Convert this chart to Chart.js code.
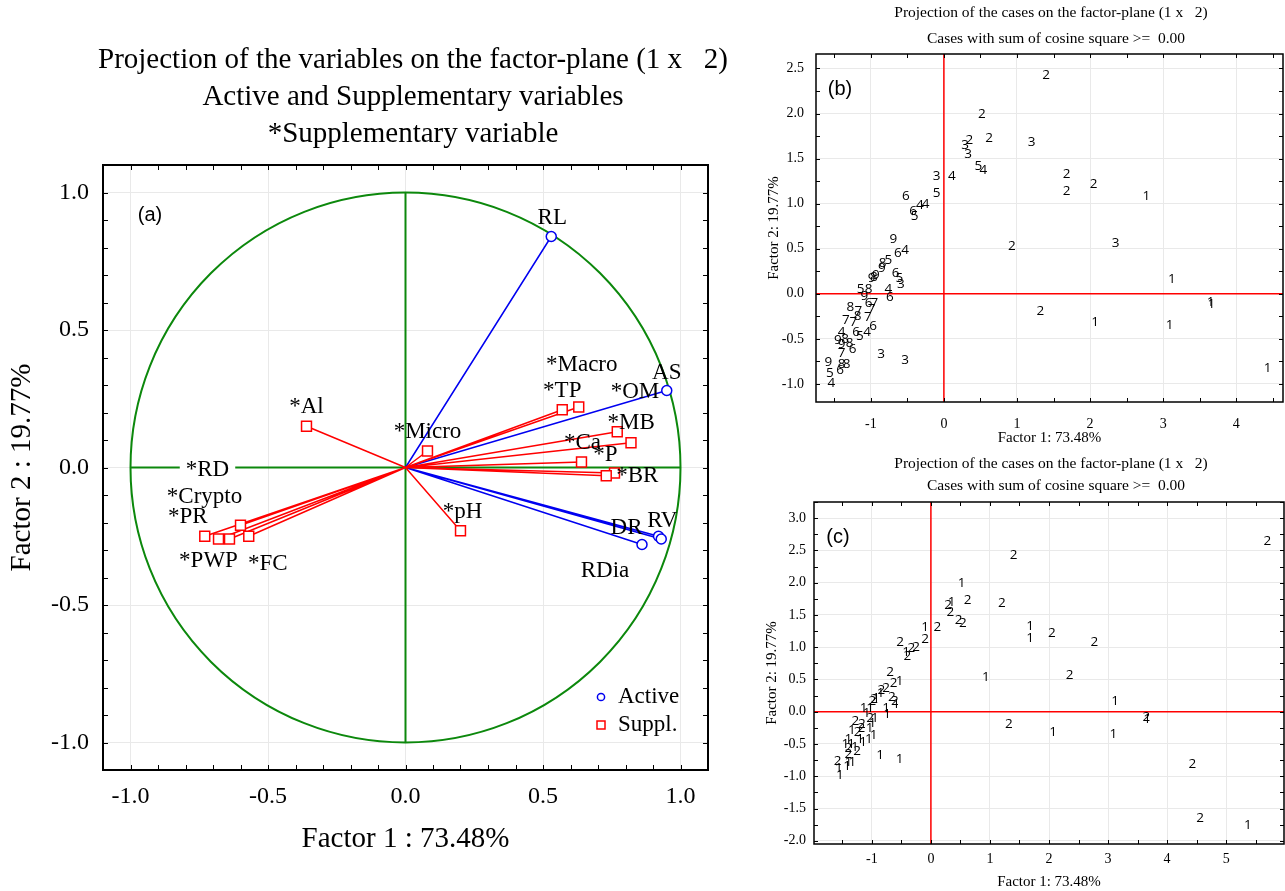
<!DOCTYPE html>
<html>
<head>
<meta charset="utf-8">
<script src="https://cdn.jsdelivr.net/npm/chart.js@4.4.0/dist/chart.umd.min.js"></script>
<style>
  body { margin: 0; background: #fff; width: 1285px; height: 891px; position: relative; overflow: hidden; }
  canvas { position: absolute; }
  #varPlane { left: 0; top: 0; width: 730px; height: 891px; }
  #casesB { left: 740px; top: 0; width: 545px; height: 452px; }
  #casesC { left: 740px; top: 452px; width: 545px; height: 439px; }
</style>
</head>
<body>
<canvas id="varPlane" width="730" height="891"></canvas>
<canvas id="casesB" width="545" height="452"></canvas>
<canvas id="casesC" width="545" height="439"></canvas>
<script>
// ---- variable loadings on factors 1 and 2 ----
var activeNames = ['RL', 'AS', 'DR', 'RV', 'RDia'];
var activeF1 = [0.53, 0.95, 0.92, 0.93, 0.86];
var activeF2 = [0.84, 0.28, -0.25, -0.26, -0.28];

var supplNames = ['*Al', '*Micro', '*TP', '*Macro', '*OM', '*MB', '*Ca', '*P', '*BR', '*pH',
                  '*RD', '*Crypto', '*PR', '*PWP', '*FC'];
var supplF1 = [-0.36, 0.08, 0.57, 0.63, 0.82, 0.77, 0.64, 0.76, 0.73, 0.20,
               -0.60, -0.64, -0.73, -0.68, -0.57];
var supplF2 = [0.15, 0.06, 0.21, 0.22, 0.09, 0.13, 0.02, -0.02, -0.03, -0.23,
               -0.21, -0.26, -0.25, -0.26, -0.25];

var loadingTicks = [-1.0, -0.5, 0.0, 0.5, 1.0];

// ---- case scores on factors 1 and 2 ----
var caseF1 = [1.40, 0.52, 0.62, 1.20, 0.29, 0.35, 0.33, 0.47, 0.54, -0.10,
              0.11, -0.10, -0.52, -0.42, -0.33, -0.25, -0.40, 0.93, 2.35, 1.68,
              1.68, 2.05, 2.77, 5.70, -0.69, -0.63, -0.53, -0.84, -0.76, -0.85,
              -0.99, -0.93, -0.96, -0.66, -0.61, -0.59, -1.14, -1.03, -1.09, -0.76,
              -0.74, -1.03, -0.95, -1.28, -1.17, -0.99, -1.34, -1.24, -1.18, -1.04,
              -0.97, -1.40, -1.20, -1.05, -1.15, -1.45, -1.40, -1.29, -1.25, -1.35,
              -1.40, -1.58, -1.33, -1.40, -1.56, -1.42, -1.54, -0.86, -0.53, 3.12,
              1.32, 2.07, 3.09, 3.65, 3.66, 4.43, 4.56, 5.37];
var caseF2 = [2.43, 1.99, 1.73, 1.68, 1.65, 1.70, 1.55, 1.42, 1.37, 1.31,
              1.31, 1.12, 1.08, 0.92, 0.98, 1.00, 0.86, 0.53, 0.56, 1.33,
              1.14, 1.22, 1.08, 2.64, 0.61, 0.45, 0.48, 0.34, 0.37, 0.28,
              0.17, 0.21, 0.19, 0.23, 0.17, 0.11, 0.05, 0.05, -0.03, 0.05,
              -0.04, -0.10, -0.10, -0.15, -0.19, -0.17, -0.29, -0.31, -0.25, -0.26,
              -0.36, -0.43, -0.42, -0.43, -0.47, -0.51, -0.56, -0.55, -0.61, -0.50,
              -0.66, -0.76, -0.78, -0.78, -0.88, -0.85, -0.99, -0.67, -0.74, 0.16,
              -0.19, -0.31, -0.35, -0.09, -0.12, -0.82, -1.65, -1.76];
// case codes shown in panel (b) and in panel (c)
var codesB = [2, 2, 2, 3, 3, 2, 3, 5, 4, 3,
              4, 5, 6, 6, 4, 4, 5, 2, 3, 2,
              2, 2, 1, 1, 9, 6, 4, 8, 5, 9,
              9, 9, 8, 6, 5, 3, 5, 8, 9, 4,
              6, 6, 7, 8, 7, 7, 7, 7, 8, 7,
              6, 4, 6, 4, 5, 9, 9, 8, 6, 8,
              7, 9, 8, 8, 5, 6, 4, 3, 3, 1,
              2, 1, 1, 1, 1, 1, 1, 1];
var codesC = [2, 1, 2, 2, 2, 1, 2, 2, 2, 1,
              2, 2, 2, 1, 2, 2, 2, 1, 2, 1,
              1, 2, 2, 2, 2, 2, 1, 2, 2, 1,
              2, 1, 2, 2, 2, 1, 1, 1, 1, 1,
              1, 2, 1, 2, 2, 1, 1, 2, 2, 1,
              1, 1, 1, 1, 1, 1, 2, 1, 2, 1,
              2, 2, 1, 1, 1, 1, 1, 1, 1, 1,
              2, 1, 1, 2, 1, 2, 2, 1];

var caseTicksB_x = [-1, 0, 1, 2, 3, 4];
var caseTicksB_y = [-1.0, -0.5, 0.0, 0.5, 1.0, 1.5, 2.0, 2.5];
var caseTicksC_x = [-1, 0, 1, 2, 3, 4, 5];
var caseTicksC_y = [-2.0, -1.5, -1.0, -0.5, 0.0, 0.5, 1.0, 1.5, 2.0, 2.5, 3.0];

// ---- styling ----
var SERIF = '"Liberation Serif", "Times New Roman", serif';
var SANS = '"Liberation Sans", Arial, sans-serif';
var GREEN = '#0c880c';
var BLUE = '#0000f0';
var RED = '#ff0000';
var GRID = '#e9e9e9';

// label placement around each variable marker (dx, dy in px)
var activeLabelOffset = [[1, -19], [0, -18], [-32, -8], [1, -18], [-37, 26]];
var supplLabelOffset = [[0, -19], [0, -19], [0, -19], [3, -42], [4, -51], [14, -9], [1, -19],
                        [-9, -18], [31, 0], [2, -19], [-33, -55], [-25, -42], [-17, -19],
                        [-10, 22], [19, 28]];
var boxedLabels = ['*RD'];

Chart.defaults.color = '#000';
Chart.defaults.font.family = SERIF;

function fixedTicks(values) {
  return function (scale) { scale.ticks = values.map(function (v) { return { value: v }; }); };
}
function fixWidth(w) { return function (scale) { scale.width = w; }; }
function fixHeight(h) { return function (scale) { scale.height = h; }; }

// black frame with short inward tick marks on all four sides
function frameTicks(xStep, yStep, len, width) {
  return {
    id: 'frameTicks',
    afterDraw(chart) {
      const { ctx, chartArea: a, scales: { x, y } } = chart;
      ctx.save();
      ctx.strokeStyle = '#000';
      ctx.lineWidth = 1;
      ctx.beginPath();
      for (let k = Math.ceil(x.min / xStep - 1e-9); k * xStep <= x.max + 1e-9; k++) {
        const px = Math.round(x.getPixelForValue(k * xStep)) + 0.5;
        ctx.moveTo(px, a.bottom); ctx.lineTo(px, a.bottom - len);
        ctx.moveTo(px, a.top); ctx.lineTo(px, a.top + len);
      }
      for (let k = Math.ceil(y.min / yStep - 1e-9); k * yStep <= y.max + 1e-9; k++) {
        const py = Math.round(y.getPixelForValue(k * yStep)) + 0.5;
        ctx.moveTo(a.left, py); ctx.lineTo(a.left + len, py);
        ctx.moveTo(a.right, py); ctx.lineTo(a.right - len, py);
      }
      ctx.stroke();
      ctx.lineWidth = width;
      ctx.strokeRect(a.left, a.top, a.width, a.height);
      ctx.restore();
    }
  };
}

// free text lines (titles, panel tags); x/y in canvas px
function headings(lines) {
  return {
    id: 'headings',
    afterDraw(chart) {
      const ctx = chart.ctx;
      ctx.save();
      ctx.fillStyle = '#000';
      ctx.textAlign = 'center';
      ctx.textBaseline = 'middle';
      lines.forEach(function (l) {
        ctx.font = l.font;
        const a = chart.chartArea;
        const x = l.fromArea ? a.left + l.x : l.x;
        const y = l.fromArea ? a.top + l.y : l.y;
        ctx.fillText(l.text, x, y);
      });
      ctx.restore();
    }
  };
}

function axisScale(cfg) {
  return {
    type: 'linear',
    position: cfg.position,
    min: cfg.min,
    max: cfg.max,
    afterBuildTicks: fixedTicks(cfg.ticks),
    afterFit: cfg.position === 'left' ? fixWidth(cfg.size) : fixHeight(cfg.size),
    grid: { color: GRID, lineWidth: 1, drawTicks: false },
    border: { display: false },
    ticks: {
      autoSkip: false,
      padding: cfg.tickPad,
      font: { family: SERIF, size: cfg.tickFont },
      callback: cfg.format
    },
    title: {
      display: true,
      text: cfg.title,
      font: { family: SERIF, size: cfg.titleFont },
      padding: cfg.titlePad
    }
  };
}

// ================= (a) variables on the factor plane =================
const unitCircle = {
  id: 'unitCircle',
  beforeDatasetsDraw(chart) {
    const { ctx, scales: { x, y } } = chart;
    const cx = x.getPixelForValue(0), cy = y.getPixelForValue(0);
    const rx = x.getPixelForValue(1) - cx, ry = cy - y.getPixelForValue(1);
    ctx.save();
    ctx.strokeStyle = GREEN;
    ctx.lineWidth = 2;
    ctx.beginPath();
    ctx.ellipse(cx, cy, rx, ry, 0, 0, 2 * Math.PI);
    ctx.stroke();
    ctx.beginPath();
    ctx.moveTo(x.getPixelForValue(-1), cy); ctx.lineTo(x.getPixelForValue(1), cy);
    ctx.moveTo(cx, y.getPixelForValue(-1)); ctx.lineTo(cx, y.getPixelForValue(1));
    ctx.stroke();
    // loading vectors from the origin
    ctx.lineWidth = 1.5;
    chart.data.datasets.forEach(function (ds, i) {
      ctx.strokeStyle = ds.borderColor;
      ctx.beginPath();
      chart.getDatasetMeta(i).data.forEach(function (p) {
        ctx.moveTo(cx, cy); ctx.lineTo(p.x, p.y);
      });
      ctx.stroke();
    });
    ctx.restore();
  }
};

const variableLabels = {
  id: 'variableLabels',
  afterDatasetsDraw(chart) {
    const ctx = chart.ctx;
    ctx.save();
    ctx.font = '23px ' + SERIF;
    ctx.textAlign = 'center';
    ctx.textBaseline = 'middle';
    chart.data.datasets.forEach(function (ds, i) {
      chart.getDatasetMeta(i).data.forEach(function (p, j) {
        const name = ds.names[j];
        const off = ds.offsets[j];
        const tx = p.x + off[0], ty = p.y + off[1];
        if (boxedLabels.indexOf(name) >= 0) {
          const w = ctx.measureText(name).width + 12;
          ctx.fillStyle = '#fff';
          ctx.fillRect(tx - w / 2, ty - 11, w, 22);
        }
        ctx.fillStyle = '#000';
        ctx.fillText(name, tx, ty);
      });
    });
    ctx.restore();
  }
};

const markerLegend = {
  id: 'markerLegend',
  afterDraw(chart) {
    const { ctx, chartArea: a } = chart;
    const rows = [
      { ds: chart.data.datasets[0], dy: -73 },
      { ds: chart.data.datasets[1], dy: -45 }
    ];
    ctx.save();
    ctx.font = '23px ' + SERIF;
    ctx.textAlign = 'left';
    ctx.textBaseline = 'middle';
    rows.forEach(function (r) {
      const mx = a.right - 107, my = a.bottom + r.dy;
      ctx.strokeStyle = r.ds.borderColor;
      ctx.lineWidth = 1.5;
      ctx.beginPath();
      if (r.ds.pointStyle === 'circle') ctx.arc(mx, my, 3.6, 0, 2 * Math.PI);
      else ctx.rect(mx - 4, my - 4, 8, 8);
      ctx.stroke();
      ctx.fillStyle = '#000';
      ctx.fillText(r.ds.label, a.right - 90, my);
    });
    ctx.restore();
  }
};

new Chart(document.getElementById('varPlane'), {
  type: 'scatter',
  data: {
    datasets: [
      {
        label: 'Active',
        names: activeNames,
        offsets: activeLabelOffset,
        data: activeNames.map(function (n, i) { return { x: activeF1[i], y: activeF2[i] }; }),
        pointStyle: 'circle', pointRadius: 5, borderWidth: 1.5,
        borderColor: BLUE, backgroundColor: '#fff'
      },
      {
        label: 'Suppl.',
        names: supplNames,
        offsets: supplLabelOffset,
        data: supplNames.map(function (n, i) { return { x: supplF1[i], y: supplF2[i] }; }),
        pointStyle: 'rect', pointRadius: 7, borderWidth: 1.5,
        borderColor: RED, backgroundColor: '#fff'
      }
    ]
  },
  options: {
    responsive: false,
    animation: false,
    layout: { padding: { top: 165, right: 22, bottom: 0, left: 0 } },
    plugins: { legend: { display: false }, tooltip: { enabled: false } },
    scales: {
      x: axisScale({ position: 'bottom', min: -1.1, max: 1.1, ticks: loadingTicks, size: 121,
        tickPad: 12, tickFont: 24, format: function (v) { return v.toFixed(1); },
        title: 'Factor 1 : 73.48%', titleFont: 29, titlePad: { top: 0, bottom: 34 } }),
      y: axisScale({ position: 'left', min: -1.1, max: 1.1, ticks: loadingTicks, size: 103,
        tickPad: 14, tickFont: 24, format: function (v) { return v.toFixed(1); },
        title: 'Factor 2 : 19.77%', titleFont: 29, titlePad: { top: 5, bottom: 0 } })
    }
  },
  plugins: [unitCircle, variableLabels, markerLegend, frameTicks(0.1, 0.1, 5, 2),
    headings([
      { text: 'Projection of the variables on the factor-plane (1 x   2)', x: 413, y: 60, font: '29px ' + SERIF },
      { text: 'Active and Supplementary variables', x: 413, y: 97, font: '29px ' + SERIF },
      { text: '*Supplementary variable', x: 413, y: 134, font: '29px ' + SERIF },
      { text: '(a)', x: 47, y: 50, fromArea: true, font: '20px ' + SANS }
    ])]
});

// ================= (b), (c) cases on the factor plane =================
const zeroLines = {
  id: 'zeroLines',
  beforeDatasetsDraw(chart) {
    const { ctx, chartArea: a, scales: { x, y } } = chart;
    const px = x.getPixelForValue(0), py = y.getPixelForValue(0);
    ctx.save();
    ctx.strokeStyle = RED;
    ctx.lineWidth = 1.5;
    ctx.beginPath();
    ctx.moveTo(px, a.top); ctx.lineTo(px, a.bottom);
    ctx.moveTo(a.left, py); ctx.lineTo(a.right, py);
    ctx.stroke();
    ctx.restore();
  }
};

const caseLabels = {
  id: 'caseLabels',
  afterDatasetsDraw(chart) {
    const { ctx, chartArea: a } = chart;
    const codes = chart.data.datasets[0].codes;
    ctx.save();
    ctx.beginPath();
    ctx.rect(a.left, a.top, a.width, a.height);
    ctx.clip();
    ctx.font = '13.5px "Open Sans", sans-serif';
    ctx.fillStyle = '#000';
    ctx.textAlign = 'center';
    ctx.textBaseline = 'middle';
    chart.getDatasetMeta(0).data.forEach(function (p, i) {
      ctx.fillText(String(codes[i]), p.x, p.y);
    });
    ctx.restore();
  }
};

function casePlane(id, codes, c) {
  return new Chart(document.getElementById(id), {
    type: 'scatter',
    data: {
      datasets: [{
        label: 'cases',
        codes: codes,
        data: caseF1.map(function (v, i) { return { x: v, y: caseF2[i] }; }),
        pointRadius: 0
      }]
    },
    options: {
      responsive: false,
      animation: false,
      layout: { padding: c.padding },
      plugins: { legend: { display: false }, tooltip: { enabled: false } },
      scales: {
        x: axisScale({ position: 'bottom', min: c.xMin, max: c.xMax, ticks: c.xTicks, size: c.xSize,
          tickPad: c.xTickPad, tickFont: 14, format: function (v) { return String(v); },
          title: 'Factor 1: 73.48%', titleFont: 15, titlePad: { top: 0, bottom: c.xTitlePad } }),
        y: axisScale({ position: 'left', min: c.yMin, max: c.yMax, ticks: c.yTicks, size: c.ySize,
          tickPad: c.yTickPad, tickFont: 14, format: function (v) { return v.toFixed(1); },
          title: 'Factor 2: 19.77%', titleFont: 15, titlePad: { top: c.yTitlePad, bottom: 0 } })
      }
    },
    plugins: [zeroLines, caseLabels, frameTicks(0.5, 0.25, 4, 1.5),
      headings([
        { text: 'Projection of the cases on the factor-plane (1 x   2)', x: 311, y: c.head1, font: '15.5px ' + SERIF },
        { text: 'Cases with sum of cosine square >=  0.00', x: 316, y: c.head2, font: '15.5px ' + SERIF },
        { text: c.tag, x: 24, y: 35, fromArea: true, font: '20px ' + SANS }
      ])]
  });
}

casePlane('casesB', codesB, {
  padding: { top: 54, right: 2, bottom: 0, left: 0 },
  xMin: -1.75, xMax: 4.64, yMin: -1.2, yMax: 2.66,
  xTicks: caseTicksB_x, yTicks: caseTicksB_y,
  xSize: 50, ySize: 76, xTickPad: 14, yTickPad: 12, xTitlePad: 5, yTitlePad: 25,
  head1: 13, head2: 39, tag: '(b)'
});

casePlane('casesC', codesC, {
  padding: { top: 50, right: 1, bottom: 0, left: 0 },
  xMin: -1.98, xMax: 5.98, yMin: -2.05, yMax: 3.25,
  xTicks: caseTicksC_x, yTicks: caseTicksC_y,
  xSize: 47, ySize: 74, xTickPad: 7, yTickPad: 8, xTitlePad: 0, yTitlePad: 23,
  head1: 12, head2: 34, tag: '(c)'
});
</script>
</body>
</html>
